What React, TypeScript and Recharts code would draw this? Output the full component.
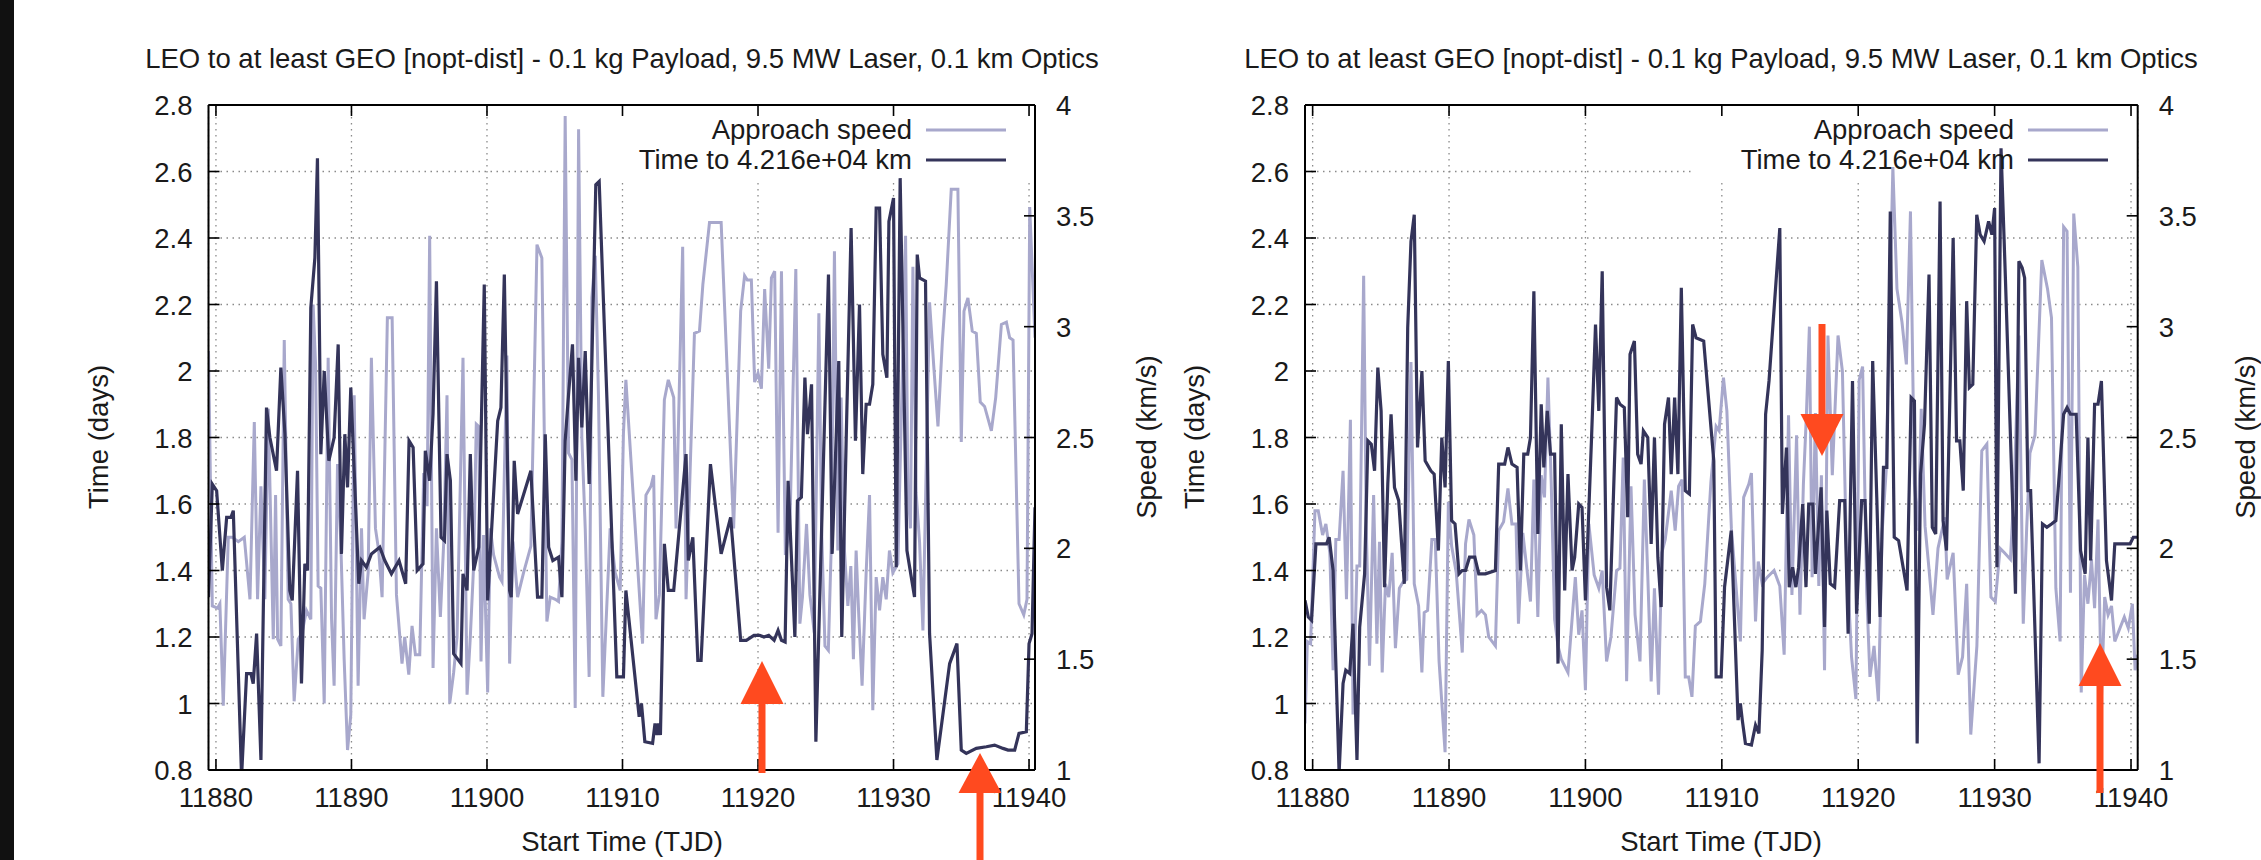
import React from "react"
import {
  LineChart,
  Line,
  XAxis,
  YAxis,
  CartesianGrid,
  ReferenceArea,
} from "recharts"

type Pt = [number, number]

const FONT = "'Liberation Sans', Arial, sans-serif"
const FS = 27.5
const INK = "#1a1a1a"
const LIGHT = "#a8a8cc"
const DARK = "#34345a"
const ARROW = "#ff4a1f"

const TITLE = "LEO to at least GEO [nopt-dist] - 0.1 kg Payload, 9.5 MW Laser, 0.1 km Optics"
const seriesNames = ["Approach speed", "Time to 4.216e+04 km"]

const tjdTicks = [11880, 11890, 11900, 11910, 11920, 11930, 11940]
const timeTicks = [0.8, 1, 1.2, 1.4, 1.6, 1.8, 2, 2.2, 2.4, 2.6, 2.8]
const speedTicks = [1, 1.5, 2, 2.5, 3, 3.5, 4]

// left panel: approach speed (km/s)
const leftSpeed: Pt[] = [
  [11879.45, 2.89], [11879.73, 1.74], [11880.12, 1.73], [11880.29, 1.75], [11880.54, 1.29], [11880.91, 2.05],
  [11881.2, 2.05], [11881.65, 2.03], [11882.09, 2.05], [11882.51, 1.77], [11882.83, 2.57], [11883.07, 1.77],
  [11883.32, 2.28], [11883.61, 1.77], [11883.86, 2.63], [11884.23, 1.59], [11884.4, 2.24], [11884.55, 1.59],
  [11884.79, 1.56], [11885.04, 2.94], [11885.33, 1.77], [11885.53, 1.75], [11885.77, 1.31], [11886.07, 1.59],
  [11886.36, 1.62], [11886.68, 1.72], [11887.0, 1.68], [11887.17, 3.1], [11887.35, 2.83], [11887.54, 1.83],
  [11887.74, 1.82], [11887.99, 1.3], [11888.28, 2.86], [11888.53, 1.68], [11888.72, 1.38], [11888.97, 2.38],
  [11889.21, 2.03], [11889.46, 1.5], [11889.71, 1.09], [11889.95, 1.25], [11890.2, 2.69], [11890.49, 1.38],
  [11890.74, 2.09], [11890.93, 1.68], [11891.23, 1.89], [11891.47, 2.86], [11891.77, 2.09], [11892.01, 1.99],
  [11892.26, 1.78], [11892.65, 3.04], [11893.0, 3.04], [11893.32, 1.79], [11893.73, 1.48], [11893.93, 1.6],
  [11894.23, 1.43], [11894.47, 1.65], [11894.72, 1.52], [11895.04, 1.52], [11895.33, 2.34], [11895.58, 2.19],
  [11895.77, 3.41], [11896.02, 1.46], [11896.27, 2.09], [11896.56, 1.69], [11896.81, 2.03], [11897.05, 2.69],
  [11897.25, 1.3], [11897.54, 1.44], [11897.79, 1.6], [11898.23, 2.86], [11898.53, 1.34], [11898.77, 1.6],
  [11899.02, 1.93], [11899.21, 2.56], [11899.39, 2.55], [11899.56, 1.49], [11899.75, 2.06], [11900.05, 1.35],
  [11900.25, 2.09], [11900.49, 1.97], [11900.93, 1.87], [11901.11, 1.85], [11901.47, 2.87], [11901.67, 1.48],
  [11901.92, 2.03], [11902.26, 1.78], [11902.7, 1.89], [11903.24, 2.01], [11903.69, 3.37], [11904.05, 3.31],
  [11904.42, 1.67], [11904.67, 1.78], [11905.04, 1.77], [11905.28, 1.76], [11905.53, 2.03], [11905.77, 3.95],
  [11906.02, 2.43], [11906.27, 2.4], [11906.51, 1.28], [11906.76, 3.89], [11907.0, 2.5], [11907.25, 2.09],
  [11907.54, 1.42], [11907.74, 3.13], [11907.99, 3.32], [11908.23, 2.68], [11908.55, 1.33], [11909.09, 2.09],
  [11909.46, 1.89], [11909.83, 1.81], [11910.07, 2.52], [11910.25, 2.76], [11911.48, 1.57], [11911.73, 2.24],
  [11912.1, 2.28], [11912.3, 2.33], [11912.47, 1.68], [11912.72, 1.79], [11913.09, 2.67], [11913.38, 2.76],
  [11913.78, 2.68], [11913.95, 2.09], [11914.44, 3.36], [11914.69, 1.77], [11915.31, 2.97], [11915.68, 2.98],
  [11915.93, 3.19], [11916.42, 3.47], [11917.28, 3.47], [11918.2, 2.09], [11918.72, 3.07], [11919.01, 3.23],
  [11919.21, 3.21], [11919.51, 3.21], [11919.75, 2.75], [11920.0, 2.79], [11920.25, 2.72], [11920.49, 3.17],
  [11920.79, 2.81], [11920.99, 3.22], [11921.23, 3.25], [11921.48, 2.07], [11921.73, 3.25], [11922.02, 1.97],
  [11922.35, 2.09], [11922.79, 3.26], [11923.09, 1.66], [11923.28, 1.78], [11923.58, 2.11], [11923.83, 1.79],
  [11924.15, 1.62], [11924.49, 3.06], [11924.69, 2.09], [11924.94, 1.56], [11925.19, 1.54], [11925.4, 2.0],
  [11925.64, 3.34], [11925.89, 1.99], [11926.13, 2.68], [11926.38, 1.99], [11926.63, 1.74], [11926.85, 1.92],
  [11927.04, 1.5], [11927.24, 1.99], [11927.44, 1.69], [11927.68, 1.38], [11927.98, 1.89], [11928.23, 2.24],
  [11928.47, 1.27], [11928.72, 1.87], [11928.97, 1.72], [11929.21, 1.87], [11929.46, 1.77], [11929.7, 1.99],
  [11929.95, 1.89], [11930.32, 1.93], [11930.89, 3.41], [11931.06, 2.27], [11931.25, 2.09], [11931.43, 3.27],
  [11931.67, 2.25], [11931.92, 2.03], [11932.17, 1.63], [11932.66, 3.11], [11932.96, 2.83], [11933.28, 2.55],
  [11933.6, 2.93], [11933.89, 3.19], [11934.26, 3.62], [11934.75, 3.62], [11935.0, 2.48], [11935.2, 3.07],
  [11935.49, 3.13], [11935.81, 2.98], [11936.11, 2.97], [11936.4, 2.66], [11936.72, 2.64], [11937.22, 2.53],
  [11937.54, 2.68], [11937.96, 3.01], [11938.33, 3.02], [11938.57, 2.95], [11938.82, 2.94], [11939.26, 1.75],
  [11939.61, 1.7], [11939.85, 1.77], [11940.05, 3.54], [11940.44, 2.95],
]

// left panel: time to 4.216e+04 km (days)
const leftTime: Pt[] = [
  [11879.45, 1.32], [11879.73, 1.66], [11880.05, 1.64], [11880.47, 1.4], [11880.79, 1.56], [11881.11, 1.56],
  [11881.28, 1.58], [11881.89, 0.78], [11882.26, 1.09], [11882.58, 1.09], [11882.75, 1.06], [11883.0, 1.21],
  [11883.32, 0.83], [11883.73, 1.89], [11883.98, 1.8], [11884.47, 1.7], [11884.79, 2.01], [11885.09, 1.81],
  [11885.45, 1.34], [11885.63, 1.31], [11886.02, 1.7], [11886.31, 1.06], [11886.56, 1.42], [11886.76, 1.4],
  [11887.0, 2.19], [11887.3, 2.34], [11887.49, 2.64], [11887.74, 1.75], [11887.99, 2.0], [11888.33, 1.73],
  [11888.72, 1.8], [11889.02, 2.08], [11889.26, 1.45], [11889.51, 1.81], [11889.71, 1.65], [11889.95, 1.95],
  [11890.54, 1.36], [11890.74, 1.43], [11891.1, 1.41], [11891.47, 1.45], [11892.09, 1.47], [11892.46, 1.43],
  [11892.95, 1.39], [11893.51, 1.43], [11894.0, 1.36], [11894.25, 1.79], [11894.55, 1.77], [11894.85, 1.4],
  [11895.28, 1.42], [11895.45, 1.76], [11895.77, 1.67], [11896.02, 1.87], [11896.27, 2.27], [11896.61, 1.5],
  [11896.86, 1.49], [11897.05, 1.75], [11897.3, 1.67], [11897.54, 1.15], [11898.08, 1.12], [11898.23, 1.39],
  [11898.53, 1.34], [11898.77, 1.75], [11899.02, 1.4], [11899.39, 1.47], [11899.8, 2.26], [11900.05, 1.31],
  [11900.79, 1.85], [11901.03, 1.89], [11901.28, 2.29], [11901.67, 1.34], [11901.79, 1.32], [11902.01, 1.73],
  [11902.26, 1.57], [11903.24, 1.7], [11903.73, 1.32], [11904.05, 1.32], [11904.3, 1.81], [11904.55, 1.47],
  [11904.86, 1.43], [11905.28, 1.44], [11905.53, 1.32], [11905.77, 1.79], [11906.02, 1.93], [11906.31, 2.08],
  [11906.56, 1.67], [11906.76, 2.04], [11907.0, 1.83], [11907.25, 2.06], [11907.54, 1.66], [11908.03, 2.56],
  [11908.28, 2.57], [11909.58, 1.08], [11910.07, 1.08], [11910.25, 1.34], [11911.23, 0.96], [11911.4, 1.0],
  [11911.65, 0.885], [11912.22, 0.88], [11912.4, 0.94], [11912.55, 0.905], [11912.65, 0.94], [11912.8, 0.905],
  [11913.09, 1.48], [11913.38, 1.34], [11913.78, 1.34], [11914.69, 1.75], [11914.86, 1.43], [11915.19, 1.5],
  [11915.56, 1.13], [11915.8, 1.13], [11916.49, 1.72], [11917.28, 1.45], [11917.98, 1.56], [11918.72, 1.19],
  [11919.14, 1.19], [11919.7, 1.205], [11920.12, 1.205], [11920.44, 1.2], [11920.79, 1.205], [11921.19, 1.19],
  [11921.48, 1.22], [11921.73, 1.19], [11922.0, 1.185], [11922.22, 1.67], [11922.72, 1.2], [11922.91, 1.61],
  [11923.2, 1.62], [11923.46, 1.98], [11923.65, 1.81], [11923.95, 1.96], [11924.27, 0.885], [11925.2, 2.29],
  [11925.47, 1.45], [11925.96, 2.03], [11926.18, 1.2], [11926.5, 1.78], [11926.87, 2.43], [11927.19, 1.79],
  [11927.49, 2.2], [11927.73, 1.69], [11927.98, 1.9], [11928.23, 1.9], [11928.47, 1.96], [11928.72, 2.49],
  [11928.97, 2.49], [11929.21, 2.05], [11929.51, 1.98], [11929.66, 2.45], [11930.0, 2.52], [11930.2, 1.41],
  [11930.49, 2.58], [11930.99, 1.46], [11931.55, 1.32], [11931.75, 2.35], [11931.92, 2.28], [11932.36, 2.27],
  [11932.66, 1.21], [11933.2, 0.83], [11934.14, 1.12], [11934.68, 1.18], [11935.0, 0.86], [11935.37, 0.85],
  [11936.11, 0.865], [11936.85, 0.87], [11937.46, 0.875], [11938.08, 0.865], [11938.45, 0.86], [11938.94, 0.86],
  [11939.26, 0.91], [11939.8, 0.915], [11940.0, 1.18], [11940.22, 1.21], [11940.44, 1.59],
]

// right panel: approach speed (km/s)
const rightSpeed: Pt[] = [
  [11879.44, 1.21], [11879.61, 1.58], [11879.85, 1.57], [11880.17, 2.17], [11880.41, 2.17], [11880.73, 2.06],
  [11880.97, 2.11], [11881.26, 1.98], [11881.5, 1.45], [11881.7, 2.04], [11881.94, 2.04], [11882.23, 2.35],
  [11882.48, 1.77], [11882.77, 2.58], [11882.96, 1.25], [11883.25, 1.92], [11883.45, 1.92], [11883.74, 3.23],
  [11883.93, 2.1], [11884.17, 1.47], [11884.47, 2.24], [11884.71, 1.57], [11884.9, 2.03], [11885.1, 1.44],
  [11885.34, 1.84], [11885.58, 1.78], [11885.83, 1.98], [11886.07, 1.55], [11886.36, 1.82], [11886.65, 1.85],
  [11886.9, 1.86], [11887.21, 2.84], [11887.45, 1.84], [11887.77, 1.74], [11888.01, 1.44], [11888.18, 1.71],
  [11888.43, 1.72], [11888.74, 2.04], [11888.99, 2.04], [11889.27, 1.49], [11889.71, 1.08], [11889.95, 2.21],
  [11890.19, 2.01], [11890.53, 1.89], [11890.97, 1.53], [11891.21, 2.02], [11891.46, 2.13], [11891.82, 2.06],
  [11892.06, 1.7], [11892.38, 1.72], [11892.67, 1.7], [11892.91, 1.6], [11893.4, 1.56], [11893.64, 2.08],
  [11894.0, 2.12], [11894.32, 2.27], [11894.61, 2.11], [11894.91, 2.11], [11895.09, 1.66], [11895.41, 2.07],
  [11895.97, 1.76], [11896.22, 2.31], [11896.51, 1.69], [11896.76, 2.33], [11897.0, 2.23], [11897.25, 2.77],
  [11897.49, 2.3], [11897.74, 1.68], [11897.99, 1.56], [11898.23, 1.5], [11898.72, 1.44], [11899.26, 1.87],
  [11899.51, 1.61], [11899.75, 1.72], [11900.0, 1.36], [11900.25, 2.11], [11900.64, 1.88], [11900.98, 1.82],
  [11901.23, 1.9], [11901.55, 1.49], [11901.87, 1.6], [11902.28, 1.9], [11902.53, 1.91], [11902.77, 2.41],
  [11903.02, 1.4], [11903.34, 2.28], [11903.64, 1.7], [11904.0, 1.49], [11904.32, 2.31], [11904.57, 1.88],
  [11904.82, 1.4], [11905.06, 1.82], [11905.36, 1.34], [11905.6, 1.98], [11905.85, 2.04], [11906.29, 2.26],
  [11906.58, 2.08], [11906.83, 2.28], [11907.08, 2.31], [11907.32, 1.42], [11907.57, 1.42], [11907.81, 1.33],
  [11908.06, 1.65], [11908.43, 1.67], [11908.75, 1.84], [11909.2, 2.3], [11909.58, 2.55], [11909.8, 2.53],
  [11910.12, 2.77], [11910.37, 2.62], [11910.7, 2.09], [11911.36, 1.58], [11911.6, 2.23], [11911.98, 2.29],
  [11912.17, 2.34], [11912.47, 1.67], [11912.67, 1.94], [11912.96, 1.84], [11913.33, 1.87], [11913.83, 1.9],
  [11914.25, 1.83], [11914.57, 1.52], [11914.89, 2.6], [11915.14, 1.79], [11915.48, 2.51], [11915.73, 1.7],
  [11915.98, 2.29], [11916.2, 2.6], [11916.42, 3.0], [11916.62, 1.87], [11916.86, 2.61], [11917.11, 1.83],
  [11917.3, 2.33], [11917.53, 1.45], [11917.78, 2.96], [11918.1, 2.33], [11918.52, 2.96], [11918.84, 2.8],
  [11919.14, 1.98], [11919.51, 1.51], [11919.83, 1.32], [11920.07, 2.76], [11920.32, 2.82], [11920.62, 1.8],
  [11920.86, 1.42], [11921.16, 1.56], [11921.48, 1.31], [11921.75, 2.07], [11922.05, 2.35], [11922.54, 3.72],
  [11922.84, 3.17], [11923.21, 3.02], [11923.53, 2.83], [11923.83, 3.52], [11924.12, 2.29], [11924.4, 2.08],
  [11924.62, 2.63], [11924.9, 2.1], [11925.2, 1.9], [11925.48, 1.7], [11925.85, 2.0], [11926.35, 2.14],
  [11926.52, 1.86], [11926.96, 1.98], [11927.33, 1.43], [11927.65, 1.51], [11927.95, 1.84], [11928.25, 1.16],
  [11928.7, 1.56], [11929.06, 2.44], [11929.43, 2.47], [11929.73, 1.78], [11930.05, 1.76], [11930.4, 2.0],
  [11930.72, 1.98], [11931.16, 1.95], [11931.45, 2.3], [11931.78, 2.96], [11932.1, 1.66], [11932.35, 2.09],
  [11932.59, 2.43], [11932.96, 2.51], [11933.46, 3.3], [11933.88, 3.17], [11934.17, 3.04], [11934.49, 1.82],
  [11934.8, 1.58], [11935.06, 3.45], [11935.31, 3.43], [11935.56, 1.8], [11935.8, 3.51], [11936.1, 3.27],
  [11936.35, 1.35], [11936.59, 1.88], [11936.84, 1.75], [11937.1, 1.95], [11937.33, 1.73], [11937.58, 2.13],
  [11937.83, 1.32], [11938.07, 1.78], [11938.32, 1.7], [11938.57, 1.74], [11938.81, 1.58], [11939.19, 1.64],
  [11939.51, 1.69], [11939.8, 1.64], [11940.1, 1.75], [11940.3, 1.45], [11940.49, 1.52],
]

// right panel: time to 4.216e+04 km (days)
const rightTime: Pt[] = [
  [11879.44, 1.31], [11879.68, 1.26], [11879.92, 1.25], [11880.24, 1.48], [11881.02, 1.48], [11881.21, 1.5],
  [11881.5, 1.4], [11881.94, 0.79], [11882.23, 1.06], [11882.43, 1.1], [11882.72, 1.09], [11882.96, 1.24],
  [11883.25, 0.83], [11883.45, 1.23], [11883.81, 1.39], [11884.05, 1.79], [11884.3, 1.78], [11884.54, 1.7],
  [11884.78, 2.01], [11885.02, 1.88], [11885.27, 1.35], [11885.51, 1.66], [11885.75, 1.87], [11886.0, 1.65],
  [11886.31, 1.61], [11886.72, 1.36], [11886.97, 2.13], [11887.21, 2.39], [11887.45, 2.47], [11887.69, 1.77],
  [11888.01, 2.0], [11888.25, 1.73], [11888.67, 1.7], [11888.91, 1.69], [11889.22, 1.46], [11889.47, 1.8],
  [11889.71, 1.65], [11889.95, 2.03], [11890.19, 1.55], [11890.44, 1.54], [11890.73, 1.39], [11890.97, 1.4],
  [11891.21, 1.4], [11891.5, 1.44], [11891.89, 1.44], [11892.18, 1.39], [11892.67, 1.39], [11893.4, 1.4],
  [11893.64, 1.72], [11894.08, 1.72], [11894.32, 1.77], [11894.61, 1.72], [11894.99, 1.71], [11895.23, 1.4],
  [11895.48, 1.75], [11895.77, 1.75], [11895.97, 1.8], [11896.22, 2.24], [11896.51, 1.51], [11896.76, 1.9],
  [11896.95, 1.71], [11897.2, 1.88], [11897.44, 1.75], [11897.74, 1.75], [11897.99, 1.12], [11898.23, 1.84],
  [11898.48, 1.34], [11898.72, 1.69], [11899.02, 1.4], [11899.21, 1.44], [11899.51, 1.6], [11899.75, 1.59],
  [11900.0, 1.31], [11900.44, 1.79], [11900.74, 2.14], [11900.98, 1.88], [11901.23, 2.3], [11901.55, 1.35],
  [11901.79, 1.28], [11902.28, 1.92], [11902.53, 1.9], [11902.85, 1.89], [11903.1, 1.56], [11903.27, 2.05],
  [11903.59, 2.09], [11903.83, 1.75], [11904.08, 1.72], [11904.25, 1.82], [11904.57, 1.8], [11904.82, 1.48],
  [11905.06, 1.8], [11905.31, 1.44], [11905.55, 1.29], [11905.8, 1.84], [11906.09, 1.92], [11906.29, 1.69],
  [11906.54, 1.92], [11906.78, 1.69], [11907.03, 2.25], [11907.32, 1.64], [11907.62, 1.63], [11907.86, 2.14],
  [11908.11, 2.1], [11908.67, 2.09], [11909.41, 1.73], [11909.58, 1.08], [11909.95, 1.08], [11910.2, 1.35],
  [11910.69, 1.52], [11911.19, 0.95], [11911.36, 1.0], [11911.5, 0.95], [11911.73, 0.88], [11912.17, 0.875],
  [11912.47, 0.935], [11912.72, 0.91], [11912.96, 1.16], [11913.21, 1.87], [11913.46, 1.97], [11914.25, 2.43],
  [11914.44, 1.57], [11914.74, 1.77], [11914.94, 1.35], [11915.19, 1.41], [11915.43, 1.35], [11915.63, 1.41],
  [11915.93, 1.6], [11916.17, 1.35], [11916.37, 1.6], [11916.67, 1.6], [11916.86, 1.39], [11917.11, 1.55],
  [11917.28, 1.65], [11917.53, 1.23], [11917.7, 1.58], [11917.95, 1.36], [11918.27, 1.35], [11918.64, 1.61],
  [11919.01, 1.61], [11919.26, 1.21], [11919.58, 1.97], [11919.88, 1.27], [11920.25, 1.61], [11920.5, 1.61],
  [11920.81, 1.24], [11921.06, 2.03], [11921.36, 1.62], [11921.6, 1.26], [11921.85, 1.71], [11922.1, 1.71],
  [11922.35, 2.48], [11922.64, 1.5], [11922.96, 1.49], [11923.58, 1.34], [11923.88, 1.92], [11924.12, 1.91],
  [11924.32, 0.88], [11924.57, 1.69], [11924.86, 1.84], [11925.19, 2.29], [11925.43, 1.53], [11925.68, 1.51],
  [11926.0, 2.51], [11926.22, 1.55], [11926.47, 1.46], [11926.72, 1.92], [11926.96, 2.4], [11927.21, 1.79],
  [11927.45, 1.79], [11927.7, 1.64], [11927.95, 2.21], [11928.15, 1.95], [11928.4, 1.96], [11928.69, 2.47],
  [11928.94, 2.41], [11929.23, 2.39], [11929.56, 2.45], [11929.8, 2.41], [11930.0, 2.49], [11930.17, 1.41],
  [11930.47, 2.67], [11930.79, 2.28], [11931.53, 1.33], [11931.78, 2.33], [11932.02, 2.31], [11932.2, 2.28],
  [11932.44, 1.64], [11932.64, 1.64], [11933.26, 0.82], [11933.51, 1.54], [11933.83, 1.53], [11934.17, 1.54],
  [11934.49, 1.55], [11934.74, 1.69], [11935.06, 1.87], [11935.31, 1.89], [11935.56, 1.87], [11935.98, 1.87],
  [11936.3, 1.46], [11936.64, 1.39], [11936.84, 1.8], [11937.04, 1.43], [11937.33, 1.9], [11937.58, 1.9],
  [11937.83, 1.97], [11938.2, 1.43], [11938.57, 1.31], [11938.81, 1.48], [11939.19, 1.48], [11939.6, 1.48],
  [11939.93, 1.48], [11940.17, 1.5], [11940.49, 1.5],
]

const rows = (pts: Pt[]) => pts.map(([t, v]) => ({ t, v }))

const textProps = { fontFamily: FONT, fontSize: FS, fill: INK }

function BottomTick({ x, y, payload }: any) {
  return (
    <g>
      <line x1={x} x2={x} y1={y} y2={y - 11} stroke="#000" strokeWidth={1.6} />
      <text x={x} y={y + 37} textAnchor="middle" {...textProps}>{payload.value}</text>
    </g>
  )
}

function TopTick({ x, y }: any) {
  return <line x1={x} x2={x} y1={y} y2={y + 11} stroke="#000" strokeWidth={1.6} />
}

function LeftTick({ x, y, payload }: any) {
  return (
    <g>
      <line x1={x} x2={x + 11} y1={y} y2={y} stroke="#000" strokeWidth={1.6} />
      <text x={x - 16} y={y + 10} textAnchor="end" {...textProps}>{payload.value}</text>
    </g>
  )
}

function RightTick({ x, y, payload }: any) {
  return (
    <g>
      <line x1={x} x2={x - 11} y1={y} y2={y} stroke="#000" strokeWidth={1.6} />
      <text x={x + 21} y={y + 10} textAnchor="start" {...textProps}>{payload.value}</text>
    </g>
  )
}

interface PanelProps {
  left: number
  width: number
  margin: { top: number; right: number; bottom: number; left: number }
  xDomain: [number, number]
  speed: Pt[]
  time: Pt[]
  boxFrom: number
}

function Panel({ left, width, margin, xDomain, speed, time, boxFrom }: PanelProps) {
  const border = { stroke: "#000", strokeWidth: 2 }
  return (
    <div style={{ position: "absolute", left, top: 0 }}>
      <LineChart width={width} height={860} margin={margin}>
        <CartesianGrid stroke="#8a8a8a" strokeDasharray="1.5 4.5" strokeWidth={1.3} />
        <ReferenceArea x1={boxFrom} x2={xDomain[1]} y1={2.57} y2={2.8} fill="#fff" fillOpacity={1} stroke="none" ifOverflow="hidden" />
        <XAxis type="number" dataKey="t" domain={xDomain} ticks={tjdTicks} interval={0} allowDataOverflow
          height={1} tickSize={0} tickMargin={0} tickLine={false} axisLine={border}
          tick={(p: any) => <BottomTick {...p} />} />
        <XAxis xAxisId="top" orientation="top" type="number" dataKey="t" domain={xDomain} ticks={tjdTicks} interval={0}
          allowDataOverflow height={1} tickSize={0} tickMargin={0} tickLine={false} axisLine={border}
          tick={(p: any) => <TopTick {...p} />} />
        <YAxis type="number" domain={[0.8, 2.8]} ticks={timeTicks} interval={0} allowDataOverflow width={1}
          tickSize={0} tickMargin={0} tickLine={false} axisLine={border} tick={(p: any) => <LeftTick {...p} />} />
        <YAxis yAxisId="speed" orientation="right" type="number" domain={[1, 4]} ticks={speedTicks} interval={0}
          allowDataOverflow width={1} tickSize={0} tickMargin={0} tickLine={false} axisLine={border}
          tick={(p: any) => <RightTick {...p} />} />
        <Line data={rows(speed)} dataKey="v" yAxisId="speed" type="linear" stroke={LIGHT} strokeWidth={3}
          dot={false} activeDot={false} isAnimationActive={false} />
        <Line data={rows(time)} dataKey="v" type="linear" stroke={DARK} strokeWidth={3.2}
          dot={false} activeDot={false} isAnimationActive={false} />
      </LineChart>
    </div>
  )
}

function Arrow({ x, tip, base, end }: { x: number; tip: number; base: number; end: number }) {
  return (
    <g fill={ARROW}>
      <polygon points={`${x},${tip} ${x - 21.5},${base} ${x + 21.5},${base}`} />
      <rect x={x - 3.5} y={Math.min(base, end)} width={7} height={Math.abs(end - base)} />
    </g>
  )
}

function Labels({ cx, yLabelX, y2LabelX, legendEnd }: { cx: number; yLabelX: number; y2LabelX: number; legendEnd: number }) {
  return (
    <g {...textProps}>
      <text x={cx} y={68} textAnchor="middle">{TITLE}</text>
      <text x={cx} y={851} textAnchor="middle">Start Time (TJD)</text>
      <text transform={`translate(${yLabelX + 10},437) rotate(-90)`} textAnchor="middle">Time (days)</text>
      <text transform={`translate(${y2LabelX + 10},437) rotate(-90)`} textAnchor="middle">Speed (km/s)</text>
      <text x={legendEnd} y={139} textAnchor="end">{seriesNames[0]}</text>
      <text x={legendEnd} y={169} textAnchor="end">{seriesNames[1]}</text>
      <line x1={legendEnd + 14} x2={legendEnd + 94} y1={130} y2={130} stroke={LIGHT} strokeWidth={3} />
      <line x1={legendEnd + 14} x2={legendEnd + 94} y1={160} y2={160} stroke={DARK} strokeWidth={3} />
    </g>
  )
}

export default function App() {
  return (
    <div style={{ position: "absolute", left: 0, top: 0, width: 2261, height: 860, background: "#fff", overflow: "hidden" }}>
      <Panel left={0} width={1130} margin={{ top: 104, right: 94, bottom: 89, left: 207.5 }}
        xDomain={[11879.45, 11940.44]} speed={leftSpeed} time={leftTime} boxFrom={11907.7} />
      <Panel left={1130} width={1131} margin={{ top: 104, right: 122.3, bottom: 89, left: 174 }}
        xDomain={[11879.44, 11940.49]} speed={rightSpeed} time={rightTime} boxFrom={11907.95} />
      <svg width={2261} height={860} style={{ position: "absolute", left: 0, top: 0, pointerEvents: "none" }}>
        <rect x={0} y={0} width={14} height={860} fill="#111" />
        <Labels cx={622} yLabelX={98} y2LabelX={1146} legendEnd={912} />
        <Labels cx={1721} yLabelX={1194} y2LabelX={2245} legendEnd={2014} />
        <Arrow x={762} tip={661} base={704} end={773} />
        <Arrow x={980} tip={753} base={793} end={860} />
        <Arrow x={1822} tip={456} base={414} end={324} />
        <Arrow x={2100} tip={643} base={686} end={793} />
      </svg>
    </div>
  )
}
